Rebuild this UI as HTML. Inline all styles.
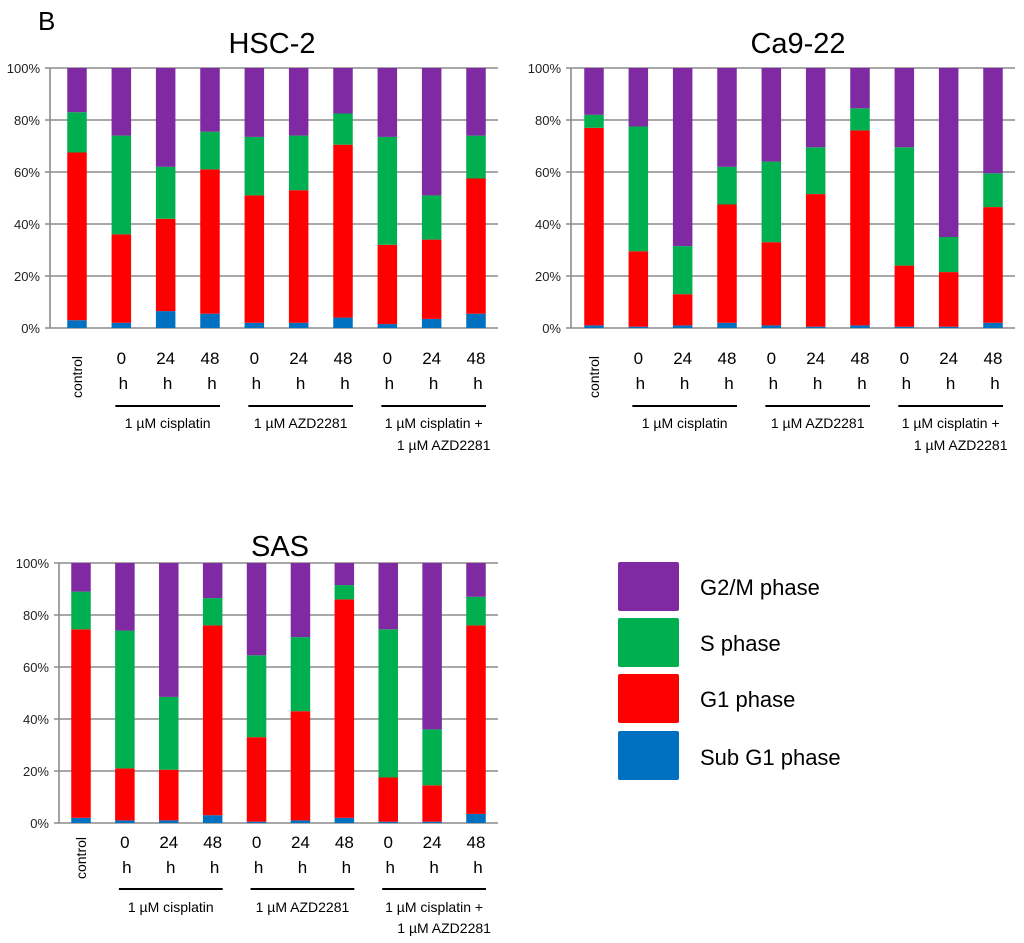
<!DOCTYPE html>
<html><head><meta charset="utf-8"><style>
html,body{margin:0;padding:0;background:#fff;}
svg{display:block;font-family:"Liberation Sans","DejaVu Sans",sans-serif;}
</style></head><body>
<svg id="fig" width="1024" height="943" viewBox="0 0 1024 943">
<text x="38" y="30" font-size="26" fill="#000">B</text>
<g>
 <rect x="618" y="562" width="61" height="49" rx="2" fill="#7f2aa2"/>
 <text x="700" y="595" font-size="22">G2/M phase</text>
 <rect x="618" y="618" width="61" height="49" rx="2" fill="#00b050"/>
 <text x="700" y="651" font-size="22">S phase</text>
 <rect x="618" y="674" width="61" height="49" rx="2" fill="#ff0000"/>
 <text x="700" y="707" font-size="22">G1 phase</text>
 <rect x="618" y="731" width="61" height="49" rx="2" fill="#0070c0"/>
 <text x="700" y="765" font-size="22">Sub G1 phase</text>
</g>
</svg>
<script>
const categories = ["control","0 h","24 h","48 h","0 h","24 h","48 h","0 h","24 h","48 h"];
const tickLabels = ["0%","20%","40%","60%","80%","100%"];
const tickValues = [0,20,40,60,80,100];
// per-phase percentages (Sub G1, G1, S, G2/M)
const hscSubG1 = [3,2,6.5,5.5,2,2,4,1.5,3.5,5.5];
const hscG1    = [64.5,34,35.5,55.5,49,51,66.5,30.5,30.5,52];
const hscS     = [15.5,38,20,14.5,22.5,21,12,41.5,17,16.5];
const hscG2M   = [17,26,38,24.5,26.5,26,17.5,26.5,49,26];
const caSubG1  = [1,0.5,1,2,1,0.5,1,0.5,0.5,2];
const caG1     = [76,29,12,45.5,32,51,75,23.5,21,44.5];
const caS      = [5,48,18.5,14.5,31,18,8.5,45.5,13.5,13];
const caG2M    = [18,22.5,68.5,38,36,30.5,15.5,30.5,65,40.5];
const sasSubG1 = [2,1,1,3,0.5,1,2,0.5,0.5,3.5];
const sasG1    = [72.5,20,19.5,73,32.5,42,84,17,14,72.5];
const sasS     = [14.5,53,28,10.5,31.5,28.5,5.5,57,21.5,11];
const sasG2M   = [11,26,51.5,13.5,35.5,28.5,8.5,25.5,64,13];
const groupLabels = [["1 µM cisplatin"],["1 µM AZD2281"],["1 µM cisplatin +","1 µM AZD2281"]];
const colors = ["#0070c0","#ff0000","#00b050","#7f2aa2"];
const phaseNames = ["subg1","g1","s","g2m"];

const NS = "http://www.w3.org/2000/svg";
const svg = document.getElementById("fig");
function mk(tag, attrs, parent){
  const e = document.createElementNS(NS, tag);
  for (const k in attrs) e.setAttribute(k, attrs[k]);
  (parent||svg).appendChild(e);
  return e;
}
function drawChart(cfg, series){
  const g = mk("g", {});
  
  
  const y = v => cfg.y0 - (v/100)*(cfg.y0 - cfg.y100);
  const x = i => cfg.first + i*(cfg.last - cfg.first)/(categories.length-1);
  const t = mk("text", {x: cfg.titleX, y: cfg.titleY, "font-size": 29, "text-anchor": "middle"}, g);
  t.textContent = cfg.title;
  
  
  tickValues.forEach((v, k) => {
    const gl = mk("line", {x1: cfg.axis-5, x2: cfg.right, y1: y(v), y2: y(v), stroke: "#8c8c8c", "stroke-width": 1.6}, g);
    
    
    const tl = mk("text", {x: cfg.axis-10, y: y(v)+5, "font-size": 13, "text-anchor": "end", fill: "#222"}, g);
    tl.textContent = tickLabels[k];
    
    
  });
  const ax = mk("line", {x1: cfg.axis, x2: cfg.axis, y1: cfg.y100, y2: cfg.y0, stroke: "#8c8c8c", "stroke-width": 1.6}, g);
  
  
  const bw = 19.5;
  categories.forEach((c, i) => {
    let cum = 0;
    series.forEach((arr, s) => {
      const v = arr[i];
      const r = mk("rect", {x: x(i)-bw/2, y: y(cum+v), width: bw, height: y(cum)-y(cum+v), fill: colors[s]}, g);
      
      
      cum += v;
    });
    if (i === 0) {
      const ct = mk("text", {x: 0, y: 0, "font-size": 14, "text-anchor": "middle", transform: "translate(" + (x(i)+5) + "," + cfg.ctrlY + ") rotate(-90)"}, g);
      ct.textContent = c;
      
      
    } else {
      const parts = c.split(" ");
      const a = mk("text", {x: x(i), y: cfg.numY+6, "font-size": 17, "text-anchor": "middle"}, g);
      a.textContent = parts[0];
      
      
      const b = mk("text", {x: x(i)+2, y: cfg.hY+6, "font-size": 17, "text-anchor": "middle"}, g);
      b.textContent = parts[1];
      
      
    }
  });
  groupLabels.forEach((lab, k) => {
    const i0 = 1 + k*3, i1 = 3 + k*3;
    const ln = mk("line", {x1: x(i0)-6, x2: x(i1)+10, y1: cfg.lineY, y2: cfg.lineY, stroke: "#000", "stroke-width": 2}, g);
    
    
    const cx = (x(i0)+x(i1))/2 + 2;
    lab.forEach((s, j) => {
      const tx = mk("text", {x: cx + (j===1 ? 10 : 0), y: (j===0 ? cfg.lab1Y : cfg.lab2Y)+5, "font-size": 14, "text-anchor": "middle"}, g);
      tx.textContent = s;
      
      
    });
  });
}
drawChart({id:"hsc2", title:"HSC-2", titleX:272, titleY:53, axis:50, right:498, first:77, last:476, y100:68, y0:328,
  ctrlY:377, numY:358, hY:383, lineY:406, lab1Y:423, lab2Y:445}, [hscSubG1, hscG1, hscS, hscG2M]);
drawChart({id:"ca922", title:"Ca9-22", titleX:798, titleY:53, axis:571, right:1015, first:594, last:993, y100:68, y0:328,
  ctrlY:377, numY:358, hY:383, lineY:406, lab1Y:423, lab2Y:445}, [caSubG1, caG1, caS, caG2M]);
drawChart({id:"sas", title:"SAS", titleX:280, titleY:556, axis:59, right:498, first:81, last:476, y100:563, y0:823,
  ctrlY:858, numY:842, hY:867, lineY:889, lab1Y:907, lab2Y:928}, [sasSubG1, sasG1, sasS, sasG2M]);
</script>
</body></html>
